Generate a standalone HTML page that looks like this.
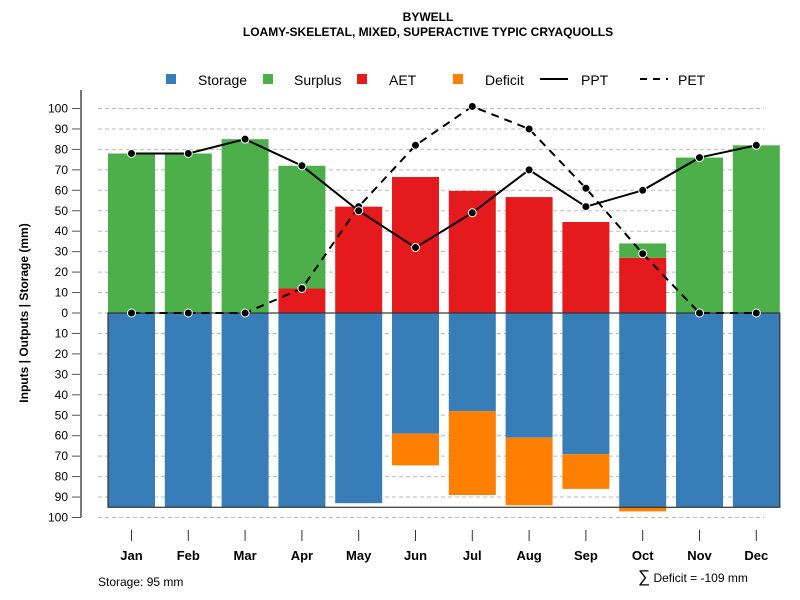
<!DOCTYPE html>
<html><head><meta charset="utf-8"><style>
body{margin:0;background:#fff}
svg{display:block;font-family:"Liberation Sans",Arial,sans-serif}
</style></head><body>
<svg id="chart" width="800" height="600" viewBox="0 0 800 600">
<text x="428" y="21" text-anchor="middle" font-size="12" font-weight="bold">BYWELL</text>
<text x="428" y="36" text-anchor="middle" font-size="12" font-weight="bold">LOAMY-SKELETAL, MIXED, SUPERACTIVE TYPIC CRYAQUOLLS</text>
<g id="legend" font-size="14">
<g><rect x="166" y="74" width="10" height="10" fill="#377eb8"/><text x="198" y="85">Storage</text></g>
<g><rect x="263" y="74" width="10" height="10" fill="#4daf4a"/><text x="294" y="85">Surplus</text></g>
<g><rect x="357" y="74" width="10" height="10" fill="#e41a1c"/><text x="389" y="85">AET</text></g>
<g><rect x="453" y="74" width="10" height="10" fill="#ff7f00"/><text x="485" y="85">Deficit</text></g>
<g><line x1="540" y1="79" x2="568" y2="79" stroke="#000" stroke-width="2"/><text x="581" y="85">PPT</text></g>
<g><line x1="640" y1="79" x2="668" y2="79" stroke="#000" stroke-width="2" stroke-dasharray="7,6"/><text x="678" y="85">PET</text></g>
</g>
<text transform="translate(28,313) rotate(-90)" text-anchor="middle" font-size="12" font-weight="bold">Inputs | Outputs | Storage    (mm)</text>
<g id="grid"></g><g id="bars"></g><g id="lines"></g><g id="axes"></g>
<text x="98" y="586" font-size="12">Storage: 95 mm</text>
<text x="638" y="582" font-size="12"><tspan font-size="17">∑</tspan> Deficit = -109 mm</text>
</svg>
<script>
const months=["Jan","Feb","Mar","Apr","May","Jun","Jul","Aug","Sep","Oct","Nov","Dec"];
const ppt=[78,78,85,72,50,32,49,70,52,60,76,82];
const pet=[0,0,0,12,52,82,101,90,61,29,0,0];
const aet=[0,0,0,12,52,66.5,59.7,56.7,44.5,27,0,0];
const surplus=[78,78,85,60,0,0,0,0,0,7,76,82];
const storage=[95,95,95,95,93,59,48,61,69,95,95,95];
const deficit=[0,0,0,0,0,15.5,41,33,17,2,0,0];
const yTicks=[100,90,80,70,60,50,40,30,20,10,0,-10,-20,-30,-40,-50,-60,-70,-80,-90,-100];
const storageMax=95;
const NS="http://www.w3.org/2000/svg";
const y=v=>313-v*2.045;
const x=i=>131.5+i*56.8;
const bw=47;
function mk(p,t,a){const e=document.createElementNS(NS,t);for(const k in a)e.setAttribute(k,a[k]);p.appendChild(e);return e;}
const grid=document.getElementById('grid'),bars=document.getElementById('bars'),lines=document.getElementById('lines'),axes=document.getElementById('axes');
yTicks.forEach(t=>{
 const g=mk(grid,'line',{x1:98,x2:764,y1:y(t),y2:y(t),stroke:'#bbb','stroke-dasharray':'4,3'});
 
 
 const tk=mk(axes,'line',{x1:72,x2:81,y1:y(t),y2:y(t),stroke:'#555'});
 
 
 const lb=mk(axes,'text',{x:68,y:y(t)+4,'text-anchor':'end','font-size':12});
 lb.textContent=Math.abs(t);
 
 
});
const ax=mk(axes,'line',{x1:81,x2:81,y1:90,y2:517,stroke:'#777','stroke-width':2});


months.forEach((m,i)=>{
 const l=x(i)-bw/2;
 let r=mk(bars,'rect',{x:l,y:y(0),width:bw,height:y(-storage[i])-y(0),fill:'#377eb8'});
 
 
 if(deficit[i]>0){
  r=mk(bars,'rect',{x:l,y:y(-storage[i]),width:bw,height:deficit[i]*2.045,fill:'#ff7f00'});
  
  
 }
 if(aet[i]>0){
  r=mk(bars,'rect',{x:l,y:y(aet[i]),width:bw,height:aet[i]*2.045,fill:'#e41a1c'});
  
  
 }
 if(surplus[i]>0){
  r=mk(bars,'rect',{x:l,y:y(aet[i]+surplus[i]),width:bw,height:surplus[i]*2.045,fill:'#4daf4a'});
  
  
 }
 const tk=mk(axes,'line',{x1:x(i),x2:x(i),y1:530,y2:541,stroke:'#333'});
 
 
 const lb=mk(axes,'text',{x:x(i),y:560,'text-anchor':'middle','font-size':13,'font-weight':'bold'});
 lb.textContent=m;
 
 
});
const box=mk(bars,'rect',{x:x(0)-bw/2,y:y(0),width:x(11)-x(0)+bw,height:storageMax*2.045,fill:'none',stroke:'#333','stroke-width':1.2});


function series(vals,name,dash){
 const p=mk(lines,'polyline',{points:vals.map((v,i)=>x(i)+','+y(v)).join(' '),fill:'none',stroke:'#000','stroke-width':2});
 if(dash)p.setAttribute('stroke-dasharray','8,6');
 
 
 vals.forEach((v,i)=>{
  const c=mk(lines,'circle',{cx:x(i),cy:y(v),r:4,fill:'#000',stroke:'#fff','stroke-width':1});
  
  
 });
}
series(pet,'pet',true);
series(ppt,'ppt',false);
</script>
</body></html>
